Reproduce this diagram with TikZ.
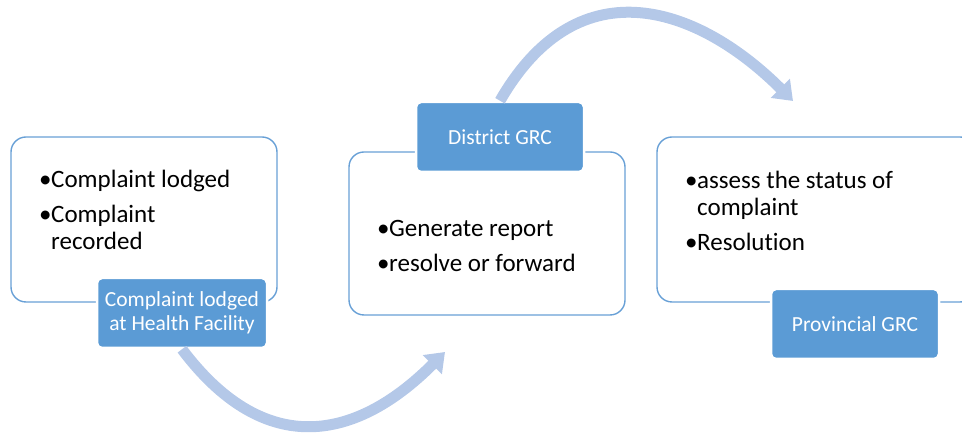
\documentclass[tikz,border=0pt]{standalone}
\usepackage{fontspec}
\setmainfont{Carlito}[Ligatures=NoCommon]
\usepackage{tikz}
\usetikzlibrary{arrows.meta,positioning}
\usepackage{xcolor}
\definecolor{BoxLine}{RGB}{104,160,214}
\definecolor{TagBlue}{RGB}{91,155,213}
\definecolor{ArcBlue}{RGB}{180,200,232}
\newcommand{\bitem}[1]{\par\hangindent=12pt\hangafter=1\noindent\makebox[12pt][l]{\textbullet}#1}
\newcommand{\boxtext}[1]{\parbox[t]{260pt}{\fontsize{25}{27}\selectfont\raggedright\parskip=8pt #1}}

\begin{document}
\begin{tikzpicture}[x=1pt,y=1pt,
  panel/.style={draw=BoxLine,line width=1.4pt,rounded corners=15pt,minimum height=165pt,inner sep=0pt},
  tag/.style={fill=TagBlue,draw=white,line width=2.5pt,rounded corners=5pt,text=white,
    font=\fontsize{21.5}{24}\selectfont,align=center,minimum width=170pt,minimum height=70pt,inner sep=0pt},
  flow/.style={ArcBlue,line width=11pt,-{Triangle[width=26pt,length=18pt]}}]
\useasboundingbox (0,0) rectangle (962,433);
%
% boxes
\node[panel,minimum width=266pt] (facility) at (144,213.5) {};
\node[panel,minimum width=276pt,minimum height=163pt] (district) at (487,199.5) {};
\node[panel,minimum width=318pt] (province) at (816,213.5) {};
%
% bullet texts
\node[anchor=base west,inner sep=0pt] (facilitytext) at (39,245)
  {\boxtext{\bitem{Complaint lodged}\bitem{Complaint\newline recorded}}};
\node[anchor=base west,inner sep=0pt] (districttext) at (377,196.3)
  {\boxtext{\bitem{Generate report}\bitem{resolve or forward}}};
\node[anchor=base west,inner sep=0pt] (provincetext) at (685,244.7)
  {\boxtext{\bitem{assess the status of\newline complaint}\bitem{Resolution}}};
%
% tags
\node[tag] (facilitytag) at (182,120) {Complaint lodged\\at Health Facility};
\node[tag,minimum width=168pt] (districttag) at (500,296) {District GRC};
\node[tag,minimum width=168pt] (provincetag) at (855,109) {Provincial GRC};
%
% arcs
\coordinate (arcendA) at (445,81);
\coordinate (arcendB) at (793,332);
\draw[flow] (facilitytag.south) .. controls +(79,-105) and +(-94,-94) .. (arcendA);
\draw[flow] (districttag.north) .. controls +(80,139) and +(-92,92) .. (arcendB);
%
\end{tikzpicture}
\end{document}
